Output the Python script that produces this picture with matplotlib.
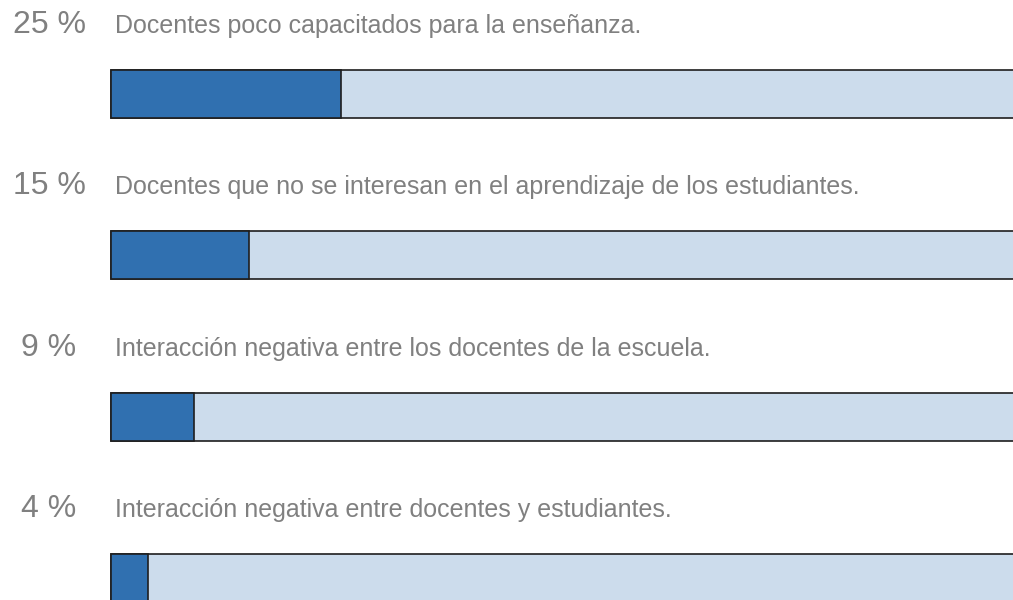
import matplotlib
matplotlib.use("Agg")
import matplotlib.pyplot as plt
import numpy as np

plt.rcParams['font.family'] = ['Liberation Sans', 'DejaVu Sans']

# data
pct = [25, 15, 9, 4]
labels = [
    "Docentes poco capacitados para la enseñanza.",
    "Docentes que no se interesan en el aprendizaje de los estudiantes.",
    "Interacción negativa entre los docentes de la escuela.",
    "Interacción negativa entre docentes y estudiantes.",
]

dark = "#3070b0"
light = "#ccdcec"
edge = "#1e1e1e"
grey = "#808080"

W, H = 1013, 600
fig = plt.figure(figsize=(W / 100, H / 100), dpi=100)

# layout in pixels
x0 = 111          # 0 %
px_per_pct = 9.2
row_gap = 161.3
first_center = 94
bar_h = 48 / row_gap

ax = fig.add_axes([x0 / W, 0, (100 * px_per_pct + 20) / W, 1])
ax.set_xlim(0, 100 + 20 / px_per_pct)
top = -first_center / row_gap
ax.set_ylim(top + H / row_gap, top)
ax.axis('off')

y = np.arange(len(pct))
ax.barh(y, [100] * len(pct), height=bar_h, color=light, edgecolor=edge,
        linewidth=1.2, align='center', clip_on=False)
ax.barh(y, pct, height=bar_h, color=dark, edgecolor=edge,
        linewidth=1.2, align='center', clip_on=False)

base_off = bar_h / 2 + 37 / row_gap
for i, (p, lab) in enumerate(zip(pct, labels)):
    ax.text((49 - x0) / px_per_pct, i - base_off, f"{p} %", ha='center',
            va='baseline', fontsize=23, color=grey)
    ax.text((115 - x0) / px_per_pct, i - base_off, lab, ha='left',
            va='baseline', fontsize=18, color=grey)

fig.savefig("out.png", dpi=100)
